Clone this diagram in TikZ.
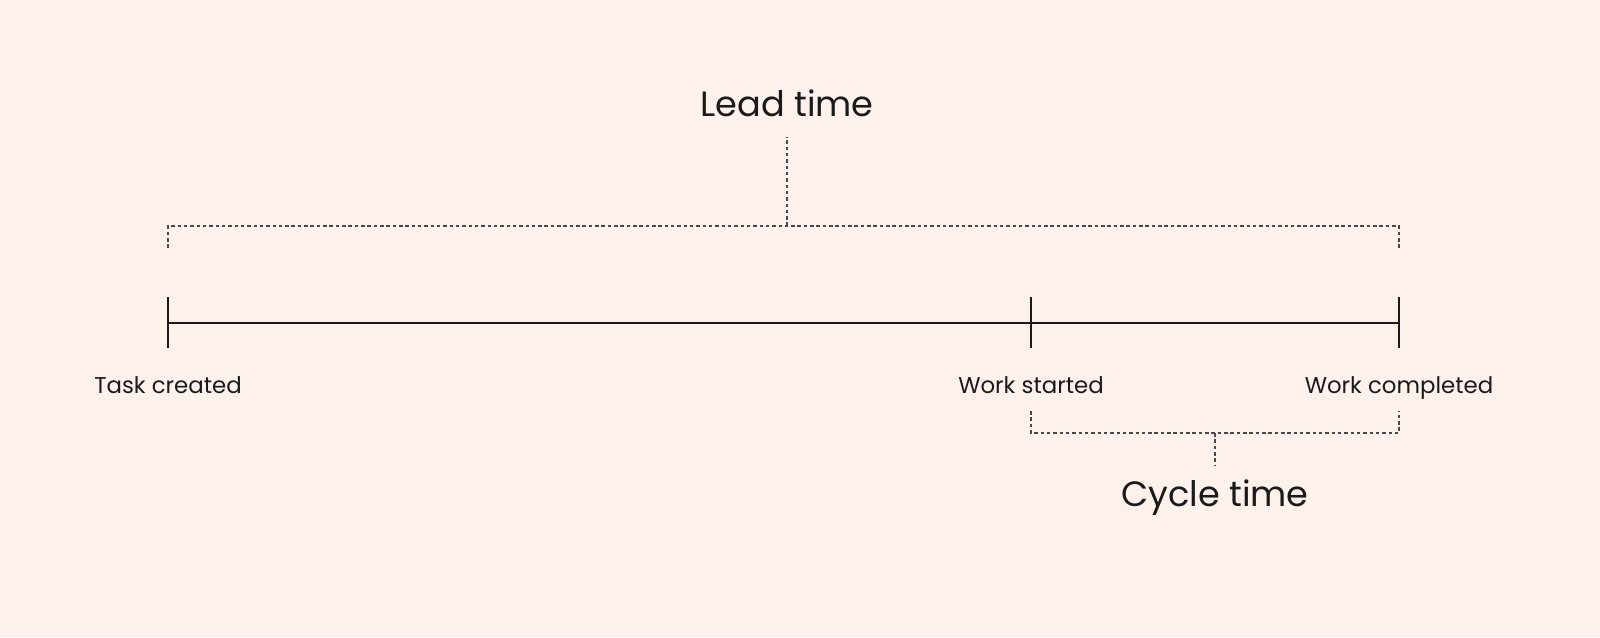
\documentclass[tikz,border=0pt]{standalone}
\usepackage{fontspec}
\setmainfont{Poppins}
\definecolor{bg}{HTML}{FDF1EC}
\definecolor{ink}{HTML}{1A1A1A}
\begin{document}
\begin{tikzpicture}[x=0.02cm,y=-0.02cm,
  solidline/.style={draw=ink,line width=1.1pt},
  dashline/.style={draw=ink!80,line width=0.6pt,dash pattern=on 2pt off 1.6pt},
  small/.style={font=\fontsize{13}{15}\selectfont,text=ink,anchor=base},
  big/.style={font=\fontsize{20}{24}\selectfont,text=ink,anchor=base}]
\fill[bg] (0,0) rectangle (1600,637);
\useasboundingbox (0,0) rectangle (1600,637);
\coordinate (a) at (168,323); \coordinate (b) at (1031,323); \coordinate (c) at (1399,323);
\draw[solidline] (a) -- (c);
\foreach \p in {a,b,c} \draw[solidline] ([yshift=-0.5cm]\p) -- ([yshift=0.52cm]\p);
\node[small] (ta) at (168,393) {Task created};
\node[small] (tb) at (1031,393) {Work started};
\node[small] (tc) at (1399,393) {Work completed};
\node[big] (lead) at (787,116) {Lead time};
\node[big] (cyc) at (1215,506) {Cycle time};
\coordinate (l1) at (168,248); \coordinate (l2) at (168,226); \coordinate (l3) at (1399,226); \coordinate (l4) at (1399,248);
\coordinate (lm) at (787,226); \coordinate (lt) at (787,137);
\draw[dashline] (l1) -- (l2) -- (l3) -- (l4);
\draw[dashline] (lm) -- (lt);
\coordinate (c1) at (1031,411); \coordinate (c2) at (1031,433); \coordinate (c3) at (1399,433); \coordinate (c4) at (1399,411);
\coordinate (cm) at (1215,433); \coordinate (cb) at (1215,465);
\draw[dashline] (c1) -- (c2) -- (c3) -- (c4);
\draw[dashline] (cm) -- (cb);
\end{tikzpicture}
\end{document}
